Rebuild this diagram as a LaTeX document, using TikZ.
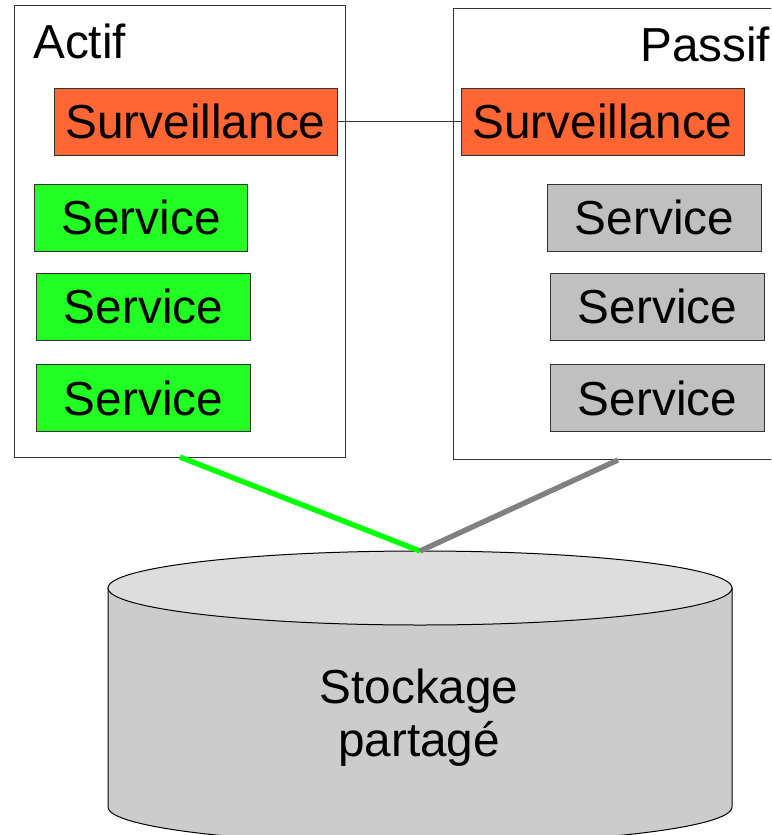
\documentclass[tikz,border=0pt]{standalone}
\usepackage{fontspec}
\setmainfont{Liberation Sans}
\definecolor{orangebox}{HTML}{FF6633}
\definecolor{greenbox}{HTML}{22FF22}
\definecolor{greenline}{HTML}{00FF00}
\definecolor{graybox}{HTML}{C0C0C0}
\definecolor{grayline}{HTML}{808080}
\definecolor{cylbody}{HTML}{CCCCCC}
\definecolor{cyltopc}{HTML}{DDDDDD}
\definecolor{edge}{HTML}{333333}
\begin{document}
\begin{tikzpicture}[x=0.75pt,y=-0.75pt,
  big/.style={font=\fontsize{35.8pt}{40pt}\selectfont},
  hostbox/.style={draw=edge,line width=0.75pt,fill=white},
  inbox/.style={draw=edge,line width=0.75pt,big,inner sep=0pt,minimum width=213.5*0.75pt,minimum height=67*0.75pt},
  survbox/.style={inbox,fill=orangebox,minimum width=283*0.75pt},
  actbox/.style={inbox,fill=greenbox},
  pasbox/.style={inbox,fill=graybox},
  link/.style={line width=4pt,line cap=butt}]
\clip (0,0) rectangle (771,835);
\fill[white] (0,0) rectangle (771,835);
% host boxes
\draw[hostbox] (14,5) rectangle (345,457);
\draw[hostbox] (453,8) rectangle (775,459);
\node[big,anchor=base west,inner sep=0pt] (actif) at (33,58) {Actif};
\node[big,anchor=base west,inner sep=0pt] (passif) at (640,61) {Passif};
% surveillance
\node[survbox] (survA) at (195.5,121.5) {Surveillance};
\node[survbox] (survP) at (602.5,121.5) {Surveillance};
\draw[draw=edge,line width=0.75pt] (survA.east) -- (survP.west);
% services
\node[actbox] (sa1) at (141,217.5) {Service};
\node[actbox] (sa2) at (143.5,306.5) {Service};
\node[actbox] (sa3) at (143.5,398) {Service};
\node[pasbox] (sp1) at (654.5,217.5) {Service};
\node[pasbox] (sp2) at (657.5,306.5) {Service};
\node[pasbox] (sp3) at (657.5,398) {Service};
% cylinder
\fill[cylbody,draw=black,line width=0.75pt] (108,588) -- (108,807)
  arc[start angle=180,end angle=360,x radius=234pt,y radius=27.75pt]
  -- (732,588) -- cycle;
\filldraw[fill=cyltopc,draw=black,line width=0.75pt] (420,588) ellipse[x radius=234pt,y radius=27.75pt];
\node[align=center,inner sep=0pt,font=\fontsize{35.8pt}{39.75pt}\selectfont] (stock) at (419,718) {Stockage\\partagé};
% links
\coordinate (cyltop) at (420,551);
\coordinate (aout) at (180,457);
\coordinate (pout) at (618,460);
\draw[link,greenline] (aout) -- (cyltop);
\draw[link,grayline] (pout) -- (cyltop);
\end{tikzpicture}
\end{document}
